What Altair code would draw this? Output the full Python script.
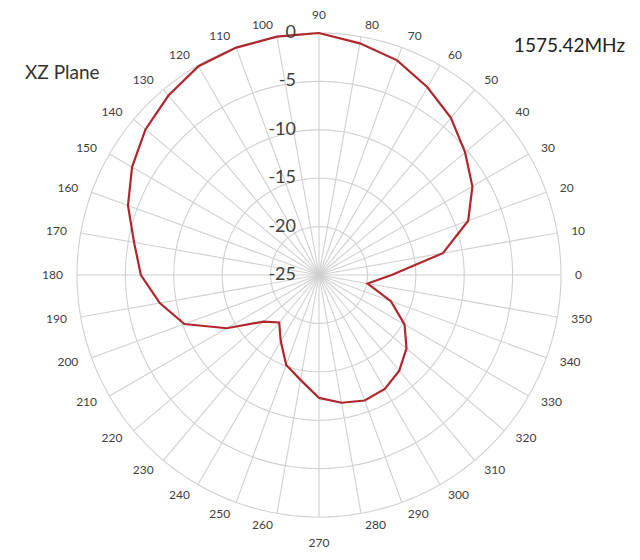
import altair as alt
import pandas as pd

# ---------------- data ----------------
angle_deg = [0, 10, 20, 30, 40, 50, 60, 70, 80, 90, 100, 110, 120, 130, 140, 150, 160, 170,
             180, 190, 200, 210, 220, 230, 240, 250, 260, 270, 280, 290, 300, 310, 320, 330,
             340, 350]
gain_db = [-17.5, -12.0, -8.6, -6.7, -5.3, -3.8, -2.6, -1.4, -0.7, 0.0, 0.0, 0.0, -0.1, -0.8,
           -1.6, -2.7, -4.0, -5.6, -6.6, -8.3, -10.2, -14.0, -17.5, -18.6, -17.1, -15.1, -14.0,
           -12.3, -11.6, -11.2, -11.4, -12.1, -13.2, -14.8, -17.1, -19.9]
ring_db = [0, -5, -10, -15, -20, -25]
spoke_deg = list(range(0, 360, 10))
plane_label = "XZ Plane"
freq_label = "1575.42MHz"

# ---------------- layout / style ----------------
DB_MIN = -25
R_OUT = 0 - DB_MIN
PX = 9.68            # pixels per dB
W, H = 624, 544
CX, CY = 311, 267    # centre of the polar area inside the plot
GRID = "#d0d0d0"
TXT = "#404040"
RED = "#b0262c"
FONT = "Lato"

xs = alt.Scale(domain=[-CX / PX, (W - CX) / PX], nice=False, zero=False)
ys = alt.Scale(domain=[-(H - CY) / PX, CY / PX], nice=False, zero=False)
RAD = "PI / 180"

# ---------------- curve ----------------
curve_df = pd.DataFrame({
    "angle": angle_deg + [angle_deg[0] + 360],
    "gain": gain_db + [gain_db[0]],
})
curve_df["order"] = range(len(curve_df))

curve = (
    alt.Chart(curve_df)
    .transform_calculate(r=f"datum.gain - ({DB_MIN})")
    .transform_calculate(x=f"datum.r * cos(datum.angle * {RAD})")
    .transform_calculate(y=f"datum.r * sin(datum.angle * {RAD})")
    .mark_line(color=RED, strokeWidth=2.2)
    .encode(
        x=alt.X("x:Q", scale=xs, axis=None),
        y=alt.Y("y:Q", scale=ys, axis=None),
        order="order:Q",
    )
)

# ---------------- grid rings ----------------
ring_df = pd.DataFrame({"ring": ring_db, "lab": [str(v) for v in ring_db]})

rings = (
    alt.Chart(ring_df)
    .transform_filter(f"datum.ring > {DB_MIN}")
    .transform_calculate(t="sequence(0, 362, 2)")
    .transform_flatten(["t"])
    .transform_calculate(r=f"datum.ring - ({DB_MIN})")
    .transform_calculate(x=f"datum.r * cos(datum.t * {RAD})")
    .transform_calculate(y=f"datum.r * sin(datum.t * {RAD})")
    .mark_line(color=GRID, strokeWidth=1.1)
    .encode(
        x=alt.X("x:Q", scale=xs, axis=None),
        y=alt.Y("y:Q", scale=ys, axis=None),
        detail="ring:N",
        order="t:Q",
    )
)

# ---------------- spokes ----------------
spoke_df = pd.DataFrame({"a": spoke_deg, "lab": [str(a) for a in spoke_deg]})

spokes = (
    alt.Chart(spoke_df)
    .transform_calculate(x0="0", y0="0")
    .transform_calculate(x1=f"{R_OUT} * cos(datum.a * {RAD})")
    .transform_calculate(y1=f"{R_OUT} * sin(datum.a * {RAD})")
    .mark_rule(color=GRID, strokeWidth=1.1)
    .encode(
        x=alt.X("x0:Q", scale=xs, axis=None),
        y=alt.Y("y0:Q", scale=ys, axis=None),
        x2="x1:Q",
        y2="y1:Q",
    )
)

# ---------------- ring labels ----------------
ring_text = (
    alt.Chart(ring_df)
    .transform_calculate(x=f"-{23 / PX}")
    .transform_calculate(y=f"datum.ring - ({DB_MIN})")
    .mark_text(align="right", baseline="middle", font=FONT, fontSize=18, color=TXT)
    .encode(
        x=alt.X("x:Q", scale=xs, axis=None),
        y=alt.Y("y:Q", scale=ys, axis=None),
        text="lab:N",
    )
)

# ---------------- angle labels ----------------
def angle_labels(filt, align, x_expr, y_expr):
    return (
        alt.Chart(spoke_df)
        .transform_calculate(c=f"cos(datum.a * {RAD})", s=f"sin(datum.a * {RAD})")
        .transform_filter(filt)
        .transform_calculate(x=x_expr)
        .transform_calculate(y=y_expr)
        .mark_text(align=align, baseline="middle", font=FONT, fontSize=12, color=TXT)
        .encode(
            x=alt.X("x:Q", scale=xs, axis=None),
            y=alt.Y("y:Q", scale=ys, axis=None),
            text="lab:N",
        )
    )

lab_right = angle_labels(
    "datum.c > 0.05", "left",
    f"{R_OUT} * datum.c + (2 + 12 * abs(datum.c)) / {PX}",
    f"{R_OUT} * datum.s + 12 * datum.s / {PX}",
)
lab_left = angle_labels(
    "datum.c < -0.05", "right",
    f"{R_OUT} * datum.c - (2 + 12 * abs(datum.c)) / {PX}",
    f"{R_OUT} * datum.s + 12 * datum.s / {PX}",
)
lab_mid = angle_labels(
    "abs(datum.c) <= 0.05", "center",
    f"{R_OUT} * datum.c",
    f"{R_OUT} * datum.s + (datum.s > 0 ? 18 : -26) / {PX}",
)

# ---------------- annotations ----------------
plane_text = alt.Chart(pd.DataFrame({"t": [plane_label]})).mark_text(
    align="left", baseline="middle", font=FONT, fontSize=19, color="#333333"
).encode(x=alt.value(17), y=alt.value(65), text="t:N")

freq_text = alt.Chart(pd.DataFrame({"t": [freq_label]})).mark_text(
    align="right", baseline="middle", font=FONT, fontSize=19, color="#222222"
).encode(x=alt.value(617), y=alt.value(38), text="t:N")

chart = (
    alt.layer(rings, spokes, curve, ring_text, lab_right, lab_left, lab_mid,
              plane_text, freq_text)
    .properties(width=W, height=H, autosize=alt.AutoSizeParams(type="none"), padding=0,
                background="white")
    .configure_view(stroke=None)
)

chart.save("out.html", embed_options={"renderer": "svg", "actions": False})
